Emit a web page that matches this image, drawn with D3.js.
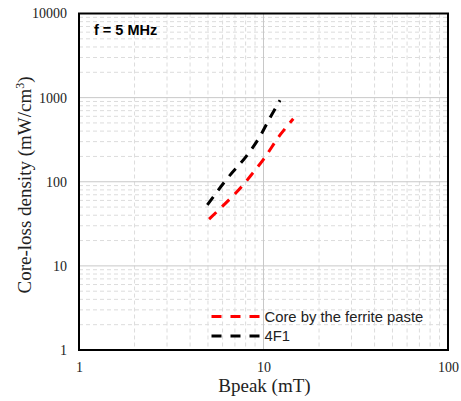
<!DOCTYPE html>
<html>
<head>
<meta charset="utf-8">
<script src="https://cdn.jsdelivr.net/npm/d3@7/dist/d3.min.js"></script>
<style>
  body { margin: 0; background: #fff; }
</style>
</head>
<body>
<div id="chart"></div>
<script>
// data
const pasteB = [5.07, 6.2, 7.6, 8.7, 10, 12.3, 14.5];
const pasteLoss = [36, 55, 87, 125, 185, 360, 560];
const f4B = [4.96, 6.18, 8.45, 9.57, 10.7, 12.3];
const f4Loss = [53, 101, 230, 346, 547, 930];
const xTicks = [1, 10, 100];
const yTicks = [1, 10, 100, 1000, 10000];
const seriesNames = ["Core by the ferrite paste", "4F1"];
const seriesColors = ["#ff0000", "#000000"];

const W = 461, H = 401;
const margin = { top: 13.5, right: 13, bottom: 51, left: 79 };
const width = W - margin.left - margin.right;
const height = H - margin.top - margin.bottom;

const svg = d3.select("#chart").append("svg")
    .attr("width", W)
    .attr("height", H);

const g = svg.append("g")
    .attr("transform", `translate(${margin.left},${margin.top})`);

const x = d3.scaleLog().domain([1, 100]).range([0, width]);
const y = d3.scaleLog().domain([1, 10000]).range([height, 0]);

// minor grid
const minorX = [], minorY = [];
[1, 10].forEach(d => { for (let k = 2; k <= 9; k++) minorX.push(d * k); });
[1, 10, 100, 1000].forEach(d => { for (let k = 2; k <= 9; k++) minorY.push(d * k); });

g.selectAll(".minorx").data(minorX).enter().append("line")
    .attr("x1", d => x(d)).attr("x2", d => x(d))
    .attr("y1", 0).attr("y2", height)
    .attr("stroke", "#dcdcdc").attr("stroke-width", 1)
    .attr("stroke-dasharray", "4,3");
g.selectAll(".minory").data(minorY).enter().append("line")
    .attr("y1", d => y(d)).attr("y2", d => y(d))
    .attr("x1", 0).attr("x2", width)
    .attr("stroke", "#dcdcdc").attr("stroke-width", 1)
    .attr("stroke-dasharray", "4,3");

// major grid
g.selectAll(".majorx").data(xTicks).enter().append("line")
    .attr("x1", d => x(d)).attr("x2", d => x(d))
    .attr("y1", 0).attr("y2", height)
    .attr("stroke", "#c8c8c8").attr("stroke-width", 1);
g.selectAll(".majory").data(yTicks).enter().append("line")
    .attr("y1", d => y(d)).attr("y2", d => y(d))
    .attr("x1", 0).attr("x2", width)
    .attr("stroke", "#c8c8c8").attr("stroke-width", 1);

// axes (labels only)
const xAxis = g.append("g")
    .attr("transform", `translate(0,${height})`)
    .call(d3.axisBottom(x).tickValues(xTicks).tickFormat(d3.format("d")).tickSize(0).tickPadding(12));
const yAxis = g.append("g")
    .call(d3.axisLeft(y).tickValues(yTicks).tickFormat(d3.format("d")).tickSize(0).tickPadding(12));
[xAxis, yAxis].forEach(a => {
    a.select(".domain").remove();
    a.selectAll("text")
        .style("font-family", "'Liberation Serif', 'Times New Roman', serif")
        .style("font-size", "14px")
        .attr("fill", "#222");
});

// series
const line = d3.line().x(d => x(d[0])).y(d => y(d[1])).curve(d3.curveMonotoneX);
const series = [
    d3.zip(pasteB, pasteLoss),
    d3.zip(f4B, f4Loss)
];
series.forEach((s, i) => {
    g.append("path")
        .datum(s)
        .attr("d", line)
        .attr("fill", "none")
        .attr("stroke", seriesColors[i])
        .attr("stroke-width", 3)
        .attr("stroke-dasharray", "10,8");
});

// frame
g.append("rect")
    .attr("width", width).attr("height", height)
    .attr("fill", "none").attr("stroke", "#000").attr("stroke-width", 2);

// annotation
g.append("text")
    .attr("x", 15).attr("y", 21)
    .style("font-family", "'Liberation Sans', Arial, sans-serif")
    .style("font-size", "14.5px")
    .style("font-weight", "bold")
    .text("f = 5 MHz");

// legend
const legend = g.append("g").attr("transform", `translate(${211.5 - margin.left},${316.5 - margin.top})`);
seriesNames.forEach((name, i) => {
    const row = legend.append("g").attr("transform", `translate(0,${i * 19.5})`);
    row.append("line")
        .attr("x1", 0).attr("x2", 48)
        .attr("stroke", seriesColors[i]).attr("stroke-width", 3)
        .attr("stroke-dasharray", "10,9");
    row.append("text")
        .attr("x", 53).attr("y", 0).attr("dy", "0.35em")
        .style("font-family", "'Liberation Sans', Arial, sans-serif")
        .style("font-size", "14.8px")
        .attr("fill", "#222")
        .text(name);
});

// axis titles
svg.append("text")
    .attr("x", margin.left + width / 2 + 1).attr("y", 392)
    .attr("text-anchor", "middle")
    .style("font-family", "'Liberation Serif', 'Times New Roman', serif")
    .style("font-size", "19px")
    .attr("fill", "#222")
    .text("Bpeak (mT)");

const yl = svg.append("text")
    .attr("transform", `translate(31,${185}) rotate(-90)`)
    .attr("text-anchor", "middle")
    .style("font-family", "'Liberation Serif', 'Times New Roman', serif")
    .style("font-size", "19px")
    .attr("fill", "#222");
yl.append("tspan").text("Core-loss density (mW/cm");
yl.append("tspan").attr("baseline-shift", "super").style("font-size", "12px").text("3");
yl.append("tspan").text(")");
</script>
</body>
</html>
